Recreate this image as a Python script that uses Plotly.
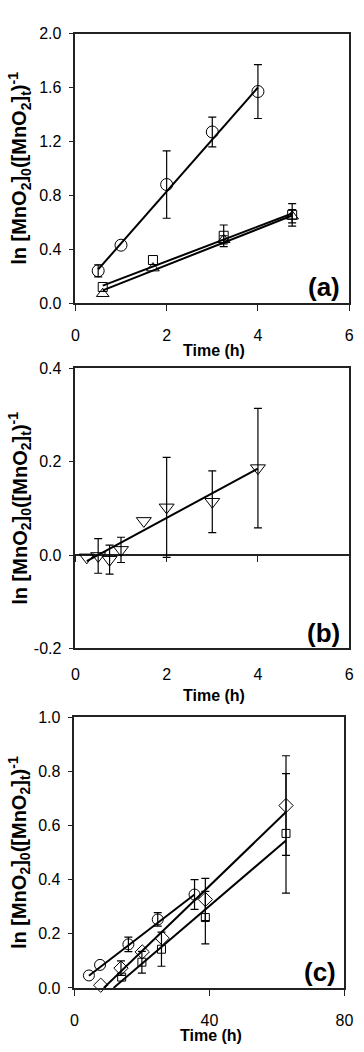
import plotly.graph_objects as go

W, H = 364, 1052

# ---------------- data ----------------
# panel (a)
a_circ_t = [0.5, 1.0, 2.0, 3.0, 4.0]
a_circ_y = [0.24, 0.43, 0.88, 1.27, 1.57]
a_circ_err = [0.045, None, 0.25, 0.11, 0.20]
a_circ_fit_t = [0.5, 4.0]
a_circ_fit_y = [0.25, 1.60]

a_sq_t = [0.6, 1.7, 3.25, 4.75]
a_sq_y = [0.12, 0.32, 0.50, 0.655]
a_sq_err = [None, None, 0.08, 0.084]
a_sq_fit_t = [0.6, 4.75]
a_sq_fit_y = [0.13, 0.665]

a_tri_t = [0.6, 1.7, 3.25, 4.75]
a_tri_y = [0.07, 0.26, 0.47, 0.645]
a_tri_err = [None, None, 0.03, 0.05]
a_tri_fit_t = [0.6, 4.75]
a_tri_fit_y = [0.095, 0.65]

# panel (b)
b_t = [0.25, 0.5, 0.75, 1.0, 1.5, 2.0, 3.0, 4.0]
b_y = [-0.005, -0.002, -0.010, 0.011, 0.073, 0.102, 0.114, 0.186]
b_err = [None, 0.037, 0.031, 0.027, None, 0.107, 0.066, 0.128]
b_fit_t = [0.25, 4.0]
b_fit_y = [-0.013, 0.185]
b_ytick_vals = [-0.2, 0.0, 0.2, 0.4]
b_ytick_text = ["-0.2", "0.0", "0.2", "0.4"]

# panel (c)
c_circ_t = [4.3, 7.6, 16.0, 24.7, 35.6]
c_circ_y = [0.046, 0.085, 0.161, 0.253, 0.345]
c_circ_err = [None, None, 0.027, 0.025, 0.055]
c_circ_fit_t = [4.3, 35.6]
c_circ_fit_y = [0.045, 0.345]

c_dia_t = [7.8, 13.8, 20.1, 26.0, 38.8, 62.7]
c_dia_y = [0.01, 0.073, 0.133, 0.184, 0.327, 0.674]
c_dia_err = [None, 0.027, None, None, 0.078, 0.184]
c_dia_fit_t = [8.7, 62.7]
c_dia_fit_y = [0.0, 0.65]

c_sq_t = [14.0, 20.0, 25.8, 38.8, 62.7]
c_sq_y = [0.04, 0.095, 0.143, 0.26, 0.571]
c_sq_err = [None, 0.04, 0.063, 0.097, 0.221]
c_sq_fit_t = [11.6, 62.7]
c_sq_fit_y = [0.0, 0.545]

x_title = "Time (h)"
y_title = "ln [MnO<sub>2</sub>]<sub>0</sub>([MnO<sub>2</sub>]<sub>t</sub>)<sup>-1</sup>"
panel_labels = ["(a)", "(b)", "(c)"]

# ---------------- layout helpers ----------------
FONT = "Liberation Sans, Arial, sans-serif"
AX_COLOR = "#222222"


def xdom(l, r):
    return [l / W, r / W]


def ydom(top, bottom):
    return [(H - bottom) / H, (H - top) / H]


panels = {
    1: dict(x=(74, 358), y=(26, 300)),
    2: dict(x=(74, 358), y=(366, 651)),
    3: dict(x=(73, 353), y=(721, 996)),
}

fig = go.Figure()


def add_series(xs, ys, errs, fit_x, fit_y, symbol, size, ax):
    xa, ya = ("x" if ax == 1 else f"x{ax}"), ("y" if ax == 1 else f"y{ax}")
    ex = [x for x, e in zip(xs, errs) if e is not None]
    ey = [y for y, e in zip(ys, errs) if e is not None]
    ee = [e for e in errs if e is not None]
    if ee:
        fig.add_trace(go.Scatter(
            x=ex, y=ey, mode="markers",
            marker=dict(size=1, color="rgba(0,0,0,0)"),
            error_y=dict(type="data", array=ee, color="black", thickness=1.2, width=4),
            xaxis=xa, yaxis=ya, showlegend=False, hoverinfo="skip", cliponaxis=False))
    fig.add_trace(go.Scatter(
        x=fit_x, y=fit_y, mode="lines", line=dict(color="black", width=2),
        xaxis=xa, yaxis=ya, showlegend=False))
    fig.add_trace(go.Scatter(
        x=xs, y=ys, mode="markers",
        marker=dict(symbol=symbol, size=size, color="black", line=dict(width=1, color="black")),
        xaxis=xa, yaxis=ya, showlegend=False, cliponaxis=False))


add_series(a_circ_t, a_circ_y, a_circ_err, a_circ_fit_t, a_circ_fit_y, "circle-open", 12, 1)
add_series(a_sq_t, a_sq_y, a_sq_err, a_sq_fit_t, a_sq_fit_y, "square-open", 9, 1)
add_series(a_tri_t, a_tri_y, a_tri_err, a_tri_fit_t, a_tri_fit_y, "triangle-up-open", 11, 1)

add_series(b_t, b_y, b_err, b_fit_t, b_fit_y, "triangle-down-open", 13, 2)

add_series(c_circ_t, c_circ_y, c_circ_err, c_circ_fit_t, c_circ_fit_y, "circle-open", 11, 3)
add_series(c_dia_t, c_dia_y, c_dia_err, c_dia_fit_t, c_dia_fit_y, "diamond-open", 11, 3)
add_series(c_sq_t, c_sq_y, c_sq_err, c_sq_fit_t, c_sq_fit_y, "square-open", 8, 3)

# dummy trace so the zero-line tick axis of panel (b) exists
fig.add_trace(go.Scatter(x=[], y=[], xaxis="x4", yaxis="y2", showlegend=False))

common_ax = dict(showline=True, linecolor=AX_COLOR, linewidth=1.5, mirror=True,
                 showgrid=False, zeroline=False, ticks="outside", ticklen=6,
                 tickwidth=1.2, tickcolor=AX_COLOR,
                 tickfont=dict(family=FONT, size=16, color="black"))

ranges = {
    1: dict(x=[0, 6], xd=2, y=[0, 2.0], yd=0.4),
    2: dict(x=[0, 6], xd=2, y=[-0.2, 0.4], yd=0.2),
    3: dict(x=[0, 80], xd=40, y=[0, 1.0], yd=0.2),
}

layout = {}
for i in (1, 2, 3):
    p = panels[i]
    r = ranges[i]
    xk = "xaxis" if i == 1 else f"xaxis{i}"
    yk = "yaxis" if i == 1 else f"yaxis{i}"
    xa = dict(common_ax, domain=xdom(*p["x"]), range=r["x"], dtick=r["xd"], tick0=0,
              anchor="y" if i == 1 else f"y{i}", ticklabelstandoff=11)
    ya = dict(common_ax, domain=ydom(*p["y"]), range=r["y"], dtick=r["yd"], tick0=0,
              tickformat=".1f", anchor="x" if i == 1 else f"x{i}", ticklen=5,
              ticklabelstandoff=4)
    if i == 2:
        xa["ticks"] = ""
        ya["zeroline"] = True
        ya["zerolinecolor"] = AX_COLOR
        ya["zerolinewidth"] = 1.5
        ya["tickmode"] = "array"
        ya["tickvals"] = b_ytick_vals
        ya["ticktext"] = b_ytick_text
    layout[xk] = xa
    layout[yk] = ya

# tick axis along y=0 for panel (b)
yd2 = ydom(*panels[2]["y"])
zero_pos = yd2[0] + (0 - ranges[2]["y"][0]) / (ranges[2]["y"][1] - ranges[2]["y"][0]) * (yd2[1] - yd2[0])
layout["xaxis4"] = dict(overlaying="x2", anchor="free", position=zero_pos,
                        domain=xdom(*panels[2]["x"]), range=ranges[2]["x"], dtick=2, tick0=0,
                        showline=False, showgrid=False, zeroline=False,
                        ticks="outside", ticklen=6, tickwidth=1.2, tickcolor=AX_COLOR,
                        showticklabels=False)

annotations = []
for i, lab in zip((1, 2, 3), panel_labels):
    p = panels[i]
    # panel letter, bottom-right inside
    annotations.append(dict(
        text=f"<b>{lab}</b>", xref="paper", yref="paper",
        x=(p["x"][1] - 7) / W, y=(H - (p["y"][1] - 16)) / H,
        xanchor="right", yanchor="middle", showarrow=False,
        font=dict(family=FONT, size=26, color="black")))
    # x title
    annotations.append(dict(
        text=f"<b>{x_title}</b>", xref="paper", yref="paper",
        x=(sum(p["x"]) / 2 + 2) / W, y=(H - (p["y"][1] + 48)) / H,
        xanchor="center", yanchor="middle", showarrow=False,
        font=dict(family=FONT, size=16, color="black")))
    # y title
    annotations.append(dict(
        text=f"<b>{y_title}</b>", xref="paper", yref="paper",
        x=16 / W, y=(H - sum(p["y"]) / 2) / H, textangle=-90,
        xanchor="center", yanchor="middle", showarrow=False,
        font=dict(family=FONT, size=20, color="black")))

fig.update_layout(
    width=W, height=H,
    margin=dict(l=0, r=0, t=0, b=0),
    paper_bgcolor="white", plot_bgcolor="white",
    showlegend=False,
    annotations=annotations,
    **layout,
)

fig.write_html("out.html", config={"displayModeBar": False})
